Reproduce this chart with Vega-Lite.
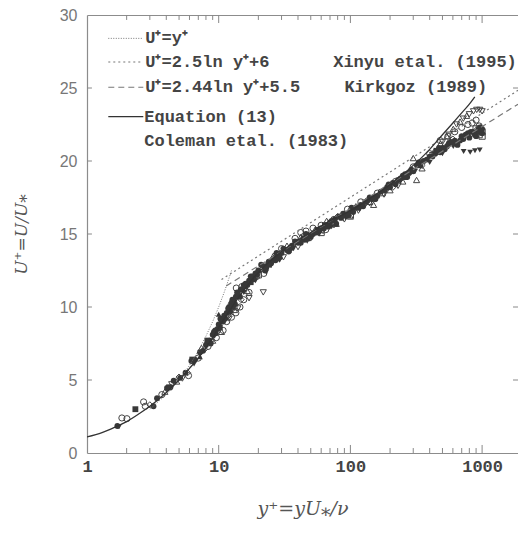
{
  "$schema": "https://vega.github.io/schema/vega-lite/v6.json",
  "width": 431,
  "height": 438,
  "autosize": "none",
  "padding": {"left": 87, "top": 15, "right": 0, "bottom": 92},
  "background": "white",
  "config": {
    "view": {"stroke": null},
    "axis": {"grid": false, "domainColor": "#8c8c8c", "domainWidth": 1.2}
  },
  "datasets": {
    "pts": [
      {"s":"A","x":1.7,"u":1.85},{"s":"A","x":3.2,"u":3.2},{"s":"A","x":3.4,"u":3.75},{"s":"A","x":4.05,"u":4.45},{"s":"A","x":4.3,"u":4.5},{"s":"A","x":4.55,"u":4.95},{"s":"A","x":5.1,"u":5.15},{"s":"A","x":5.6,"u":5.5},{"s":"A","x":6.2,"u":6.3},{"s":"A","x":6.6,"u":6.4},{"s":"A","x":7.2,"u":6.9},{"s":"A","x":7.6,"u":7.0},{"s":"A","x":8.0,"u":7.4},{"s":"A","x":8.5,"u":7.7},{"s":"A","x":9.0,"u":8.1},{"s":"A","x":9.4,"u":8.4},{"s":"A","x":10,"u":8.8},{"s":"A","x":10.5,"u":9.1},{"s":"A","x":11,"u":9.4},{"s":"A","x":11.5,"u":9.6},{"s":"A","x":12,"u":10.0},{"s":"A","x":12.5,"u":10.2},{"s":"A","x":13,"u":10.4},{"s":"A","x":13.5,"u":10.7},{"s":"A","x":14,"u":10.9},{"s":"A","x":15,"u":11.2},{"s":"A","x":16,"u":11.6},{"s":"A","x":17,"u":11.8},{"s":"A","x":18,"u":12.1},{"s":"A","x":19,"u":12.3},{"s":"A","x":20,"u":12.5},{"s":"A","x":22,"u":12.8},{"s":"A","x":24,"u":13.1},{"s":"A","x":26,"u":13.3},{"s":"A","x":28,"u":13.5},{"s":"A","x":30,"u":13.7},{"s":"A","x":33,"u":13.9},{"s":"A","x":36,"u":14.2},{"s":"A","x":40,"u":14.4},{"s":"A","x":44,"u":14.7},{"s":"A","x":48,"u":14.9},{"s":"A","x":52,"u":15.0},{"s":"A","x":56,"u":15.3},{"s":"A","x":60,"u":15.4},{"s":"A","x":65,"u":15.6},{"s":"A","x":70,"u":15.8},{"s":"A","x":76,"u":16.0},{"s":"A","x":82,"u":16.2},{"s":"A","x":90,"u":16.4},{"s":"A","x":100,"u":16.6},{"s":"A","x":110,"u":16.8},{"s":"A","x":120,"u":17.0},{"s":"A","x":135,"u":17.3},{"s":"A","x":150,"u":17.5},{"s":"A","x":170,"u":17.9},{"s":"A","x":190,"u":18.2},{"s":"A","x":210,"u":18.5},{"s":"A","x":230,"u":18.7},{"s":"A","x":260,"u":19.1},{"s":"A","x":290,"u":19.4},{"s":"A","x":320,"u":19.7},{"s":"A","x":360,"u":20.0},{"s":"A","x":400,"u":20.3},{"s":"A","x":450,"u":20.6},{"s":"A","x":500,"u":20.9},{"s":"A","x":560,"u":21.2},{"s":"A","x":620,"u":21.4},{"s":"A","x":700,"u":21.7},{"s":"A","x":780,"u":21.9},{"s":"A","x":850,"u":22.0},{"s":"A","x":930,"u":22.1},{"s":"A","x":1000,"u":22.2},{"s":"A","x":960,"u":22.3},{"s":"A","x":880,"u":21.8},{"s":"A","x":650,"u":21.1},
      {"s":"A","x":9.5,"u":8.2},{"s":"A","x":10.8,"u":9.0},{"s":"A","x":12.2,"u":9.7},{"s":"A","x":14.5,"u":10.7},{"s":"A","x":18.5,"u":11.9},{"s":"A","x":23,"u":12.7},{"s":"A","x":27,"u":13.2},{"s":"A","x":35,"u":14.0},{"s":"A","x":45,"u":14.6},{"s":"A","x":55,"u":15.1},{"s":"A","x":68,"u":15.5},{"s":"A","x":85,"u":16.1},{"s":"A","x":105,"u":16.5},{"s":"A","x":125,"u":16.9},{"s":"A","x":160,"u":17.6},{"s":"A","x":200,"u":18.2},{"s":"A","x":240,"u":18.8},{"s":"A","x":280,"u":19.2},{"s":"A","x":340,"u":19.7},{"s":"A","x":420,"u":20.3},{"s":"A","x":480,"u":20.6},{"s":"A","x":540,"u":21.0},{"s":"A","x":600,"u":21.2},{"s":"A","x":720,"u":21.5},{"s":"A","x":800,"u":21.6},{"s":"A","x":900,"u":21.7},{"s":"A","x":1000,"u":21.9},
      {"s":"A","x":8.7,"u":7.5},{"s":"A","x":9.2,"u":8.3},{"s":"A","x":9.8,"u":8.5},{"s":"A","x":10.3,"u":9.2},{"s":"A","x":11.2,"u":9.2},{"s":"A","x":11.8,"u":9.9},{"s":"A","x":12.7,"u":10.5},{"s":"A","x":13.3,"u":10.2},{"s":"A","x":13.8,"u":11.0},{"s":"A","x":14.7,"u":11.2},{"s":"A","x":15.5,"u":11.5},{"s":"A","x":16.5,"u":11.5},{"s":"A","x":17.5,"u":12.1},{"s":"A","x":19.5,"u":12.2},{"s":"A","x":21,"u":12.9},{"s":"A","x":22.5,"u":12.5},{"s":"A","x":25,"u":13.0},{"s":"A","x":27.5,"u":13.7},{"s":"A","x":29,"u":13.4},{"s":"A","x":31,"u":14.0},{"s":"A","x":34,"u":13.8},{"s":"A","x":38,"u":14.5},{"s":"A","x":42,"u":14.4},{"s":"A","x":46,"u":15.0},{"s":"A","x":50,"u":14.8},{"s":"A","x":58,"u":15.2},{"s":"A","x":63,"u":15.4},{"s":"A","x":72,"u":15.9},{"s":"A","x":78,"u":15.7},{"s":"A","x":88,"u":16.4},{"s":"A","x":95,"u":16.3},{"s":"A","x":102,"u":16.8},{"s":"A","x":115,"u":16.8},{"s":"A","x":130,"u":17.2},{"s":"A","x":140,"u":17.5},{"s":"A","x":155,"u":17.4},{"s":"A","x":180,"u":18.0},{"s":"A","x":195,"u":18.4},{"s":"A","x":220,"u":18.4},{"s":"A","x":250,"u":19.0},{"s":"A","x":270,"u":18.9},{"s":"A","x":300,"u":19.3},{"s":"A","x":330,"u":19.9},{"s":"A","x":380,"u":20.1},{"s":"A","x":440,"u":20.5},{"s":"A","x":470,"u":20.9},{"s":"A","x":520,"u":20.8},{"s":"A","x":580,"u":21.3},{"s":"A","x":680,"u":21.4},{"s":"A","x":750,"u":21.8},{"s":"A","x":820,"u":22.0},{"s":"A","x":980,"u":22.1},
      {"s":"B","x":1.84,"u":2.4},{"s":"B","x":2.01,"u":2.35},{"s":"B","x":2.69,"u":3.5},{"s":"B","x":2.77,"u":3.2},{"s":"B","x":3.7,"u":4.0},{"s":"B","x":5.9,"u":5.3},{"s":"B","x":7.0,"u":6.5},{"s":"B","x":8.3,"u":7.3},{"s":"B","x":9.6,"u":7.9},{"s":"B","x":11.5,"u":9.0},{"s":"B","x":12.5,"u":9.3},{"s":"B","x":13.5,"u":9.6},{"s":"B","x":14.5,"u":10.0},{"s":"B","x":15.5,"u":10.5},{"s":"B","x":17,"u":11.0},{"s":"B","x":19.5,"u":12.1},{"s":"B","x":24,"u":13.0},{"s":"B","x":30,"u":14.0},{"s":"B","x":38,"u":14.7},{"s":"B","x":46,"u":15.2},{"s":"B","x":52,"u":15.4},{"s":"B","x":60,"u":15.6},{"s":"B","x":75,"u":16.0},{"s":"B","x":95,"u":16.7},{"s":"B","x":120,"u":17.2},{"s":"B","x":160,"u":17.8},{"s":"B","x":220,"u":18.6},{"s":"B","x":300,"u":19.6},{"s":"B","x":400,"u":20.5},{"s":"B","x":480,"u":21.4},{"s":"B","x":550,"u":21.7},{"s":"B","x":620,"u":22.0},{"s":"B","x":700,"u":22.3},{"s":"B","x":780,"u":22.5},{"s":"B","x":840,"u":22.6},{"s":"B","x":900,"u":22.8},{"s":"B","x":950,"u":22.4},{"s":"B","x":13.6,"u":11.3},{"s":"B","x":15,"u":11.4},{"s":"B","x":10.8,"u":8.4},{"s":"B","x":22,"u":12.3},{"s":"B","x":42,"u":15.1},{"s":"B","x":65,"u":15.3},
      {"s":"C","x":3.9,"u":4.2},{"s":"C","x":4.8,"u":4.9},{"s":"C","x":7.4,"u":7.2},{"s":"C","x":9.0,"u":7.7},{"s":"C","x":10.5,"u":8.3},{"s":"C","x":13.2,"u":9.8},{"s":"C","x":16.5,"u":11.1},{"s":"C","x":21,"u":12.6},{"s":"C","x":26,"u":13.5},{"s":"C","x":33,"u":14.2},{"s":"C","x":42,"u":14.8},{"s":"C","x":54,"u":15.3},{"s":"C","x":66,"u":15.9},{"s":"C","x":78,"u":15.7},{"s":"C","x":88,"u":16.3},{"s":"C","x":110,"u":16.9},{"s":"C","x":140,"u":17.2},{"s":"C","x":175,"u":17.8},{"s":"C","x":200,"u":18.0},{"s":"C","x":250,"u":18.6},{"s":"C","x":318,"u":18.7},{"s":"C","x":350,"u":19.5},{"s":"C","x":428,"u":20.6},{"s":"C","x":483,"u":21.2},{"s":"C","x":541,"u":21.7},{"s":"C","x":604,"u":22.2},{"s":"C","x":680,"u":22.7},{"s":"C","x":763,"u":23.1},{"s":"C","x":300,"u":20.2},{"s":"C","x":150,"u":17.0},{"s":"C","x":100,"u":16.2},
      {"s":"D","x":4.4,"u":4.7},{"s":"D","x":5.3,"u":5.1},{"s":"D","x":8.8,"u":7.6},{"s":"D","x":12,"u":9.2},{"s":"D","x":14,"u":9.9},{"s":"D","x":17,"u":10.6},{"s":"D","x":21.8,"u":11.0},{"s":"D","x":25,"u":12.9},{"s":"D","x":31,"u":13.4},{"s":"D","x":40,"u":14.1},{"s":"D","x":50,"u":14.7},{"s":"D","x":62,"u":15.2},{"s":"D","x":75,"u":15.6},{"s":"D","x":90,"u":16.0},{"s":"D","x":115,"u":16.6},{"s":"D","x":140,"u":17.1},{"s":"D","x":180,"u":17.7},{"s":"D","x":230,"u":18.3},{"s":"D","x":280,"u":19.1},{"s":"D","x":350,"u":19.9},{"s":"D","x":420,"u":20.4},{"s":"D","x":500,"u":21.3},{"s":"D","x":560,"u":21.8},{"s":"D","x":640,"u":22.5},{"s":"D","x":720,"u":22.9},{"s":"D","x":800,"u":23.2},{"s":"D","x":860,"u":23.4},{"s":"D","x":910,"u":23.5},{"s":"D","x":960,"u":23.5},{"s":"D","x":1000,"u":23.4},
      {"s":"E","x":1.75,"u":1.8},{"s":"E","x":6.5,"u":6.1},{"s":"E","x":9.3,"u":8.0},{"s":"E","x":11,"u":9.2},{"s":"E","x":13,"u":10.1},{"s":"E","x":15.5,"u":11.0},{"s":"E","x":19,"u":11.8},{"s":"E","x":23,"u":12.4},{"s":"E","x":29,"u":13.2},{"s":"E","x":37,"u":14.0},{"s":"E","x":47,"u":14.5},{"s":"E","x":58,"u":15.0},{"s":"E","x":72,"u":15.5},{"s":"E","x":92,"u":16.1},{"s":"E","x":118,"u":16.7},{"s":"E","x":145,"u":17.3},{"s":"E","x":185,"u":17.9},{"s":"E","x":240,"u":18.6},{"s":"E","x":310,"u":19.3},{"s":"E","x":400,"u":19.9},{"s":"E","x":500,"u":20.5},{"s":"E","x":604,"u":21.0},{"s":"E","x":724,"u":20.65},{"s":"E","x":812,"u":20.6},{"s":"E","x":883,"u":20.7},{"s":"E","x":960,"u":20.75},{"s":"E","x":660,"u":21.2},
      {"s":"F","x":2.33,"u":3.0},{"s":"F","x":4.2,"u":4.5},{"s":"F","x":6.3,"u":6.4},{"s":"F","x":8.2,"u":7.7},{"s":"F","x":10.2,"u":8.6},{"s":"F","x":12.8,"u":10.0},{"s":"F","x":17.5,"u":11.7},{"s":"F","x":24,"u":12.9},{"s":"F","x":34,"u":13.9},{"s":"F","x":47,"u":14.7},{"s":"F","x":64,"u":15.6},{"s":"F","x":96,"u":16.3},{"s":"F","x":150,"u":17.4},{"s":"F","x":260,"u":18.9},{"s":"F","x":450,"u":20.7},{"s":"F","x":700,"u":21.6},{"s":"F","x":950,"u":22.0},
      {"s":"G","x":3.0,"u":3.3},{"s":"G","x":5.0,"u":5.2},{"s":"G","x":5.8,"u":5.5},{"s":"G","x":7.8,"u":7.1},{"s":"G","x":11.8,"u":9.4},{"s":"G","x":14.8,"u":10.5},{"s":"G","x":19.8,"u":12.4},{"s":"G","x":27,"u":13.6},{"s":"G","x":44,"u":14.9},{"s":"G","x":80,"u":16.2},{"s":"G","x":130,"u":17.1},{"s":"G","x":210,"u":18.2},{"s":"G","x":350,"u":19.7},{"s":"G","x":600,"u":21.5},{"s":"G","x":900,"u":22.1},
      {"s":"H","x":10,"u":9.5},{"s":"H","x":12.3,"u":10.4},{"s":"H","x":7.2,"u":6.6},{"s":"H","x":16,"u":11.4},{"s":"H","x":28,"u":13.3},{"s":"H","x":55,"u":15.2},{"s":"H","x":100,"u":16.7},{"s":"H","x":180,"u":18.1},{"s":"H","x":330,"u":19.8},{"s":"H","x":550,"u":21.3},{"s":"H","x":980,"u":22.4},
      {"s":"Q","x":950,"u":21.8},{"s":"Q","x":1000,"u":22.0},{"s":"Q","x":1000,"u":21.7},{"s":"Q","x":900,"u":22.2},{"s":"Q","x":20,"u":12.2},{"s":"Q","x":100,"u":16.3},{"s":"Q","x":60,"u":15.1}
    ],
    "lines": [
      {"c":"visc","x":3,"u":3},{"c":"visc","x":4,"u":4},{"c":"visc","x":5,"u":5},{"c":"visc","x":6,"u":6},{"c":"visc","x":7,"u":7},{"c":"visc","x":8,"u":8},{"c":"visc","x":9,"u":9},{"c":"visc","x":10,"u":10},{"c":"visc","x":11,"u":11},{"c":"visc","x":12,"u":12},{"c":"visc","x":12.5,"u":12.5},
      {"c":"visc_leg","x":1.451,"u":28.4},{"c":"visc_leg","x":2.676,"u":28.4},
      {"c":"l25","x":10.5,"u":11.88},{"c":"l25","x":1873,"u":24.84},
      {"c":"l25_leg","x":1.451,"u":26.78},{"c":"l25_leg","x":2.676,"u":26.78},
      {"c":"l244","x":11.4,"u":11.44},{"c":"l244","x":1873,"u":23.89},
      {"c":"l244_leg","x":1.451,"u":25.05},{"c":"l244_leg","x":2.676,"u":25.05},
      {"c":"eq","x":1,"u":1.1},{"c":"eq","x":1.3,"u":1.4},{"c":"eq","x":1.7,"u":1.85},{"c":"eq","x":2,"u":2.15},{"c":"eq","x":2.5,"u":2.7},{"c":"eq","x":3,"u":3.2},{"c":"eq","x":4,"u":4.15},{"c":"eq","x":5,"u":5.0},{"c":"eq","x":6,"u":5.8},{"c":"eq","x":7,"u":6.5},{"c":"eq","x":8,"u":7.2},{"c":"eq","x":9,"u":7.9},{"c":"eq","x":10,"u":8.6},{"c":"eq","x":12,"u":9.7},{"c":"eq","x":14,"u":10.6},{"c":"eq","x":16,"u":11.3},{"c":"eq","x":18,"u":11.9},{"c":"eq","x":20,"u":12.35},{"c":"eq","x":25,"u":13.2},{"c":"eq","x":30,"u":13.8},{"c":"eq","x":40,"u":14.6},{"c":"eq","x":50,"u":15.1},{"c":"eq","x":70,"u":15.9},{"c":"eq","x":100,"u":16.6},{"c":"eq","x":150,"u":17.6},{"c":"eq","x":200,"u":18.4},{"c":"eq","x":300,"u":19.7},{"c":"eq","x":400,"u":20.8},{"c":"eq","x":500,"u":21.8},{"c":"eq","x":600,"u":22.6},{"c":"eq","x":700,"u":23.3},{"c":"eq","x":800,"u":23.9},{"c":"eq","x":880,"u":24.4},
      {"c":"eq_leg","x":1.451,"u":23.04},{"c":"eq_leg","x":2.676,"u":23.04}
    ],
    "ticks": [
      {"x":2,"x2":2,"u":0,"u2":0.34},{"x":3,"x2":3,"u":0,"u2":0.34},{"x":4,"x2":4,"u":0,"u2":0.34},{"x":5,"x2":5,"u":0,"u2":0.34},{"x":6,"x2":6,"u":0,"u2":0.34},{"x":7,"x2":7,"u":0,"u2":0.34},{"x":8,"x2":8,"u":0,"u2":0.34},{"x":9,"x2":9,"u":0,"u2":0.34},{"x":10,"x2":10,"u":0,"u2":0.55},
      {"x":20,"x2":20,"u":0,"u2":0.34},{"x":30,"x2":30,"u":0,"u2":0.34},{"x":40,"x2":40,"u":0,"u2":0.34},{"x":50,"x2":50,"u":0,"u2":0.34},{"x":60,"x2":60,"u":0,"u2":0.34},{"x":70,"x2":70,"u":0,"u2":0.34},{"x":80,"x2":80,"u":0,"u2":0.34},{"x":90,"x2":90,"u":0,"u2":0.34},{"x":100,"x2":100,"u":0,"u2":0.55},
      {"x":200,"x2":200,"u":0,"u2":0.34},{"x":300,"x2":300,"u":0,"u2":0.34},{"x":400,"x2":400,"u":0,"u2":0.34},{"x":500,"x2":500,"u":0,"u2":0.34},{"x":600,"x2":600,"u":0,"u2":0.34},{"x":700,"x2":700,"u":0,"u2":0.34},{"x":800,"x2":800,"u":0,"u2":0.34},{"x":900,"x2":900,"u":0,"u2":0.34},{"x":1000,"x2":1000,"u":0,"u2":0.55},
      {"x":2,"x2":2,"u":29.66,"u2":30},{"x":3,"x2":3,"u":29.66,"u2":30},{"x":4,"x2":4,"u":29.66,"u2":30},{"x":5,"x2":5,"u":29.66,"u2":30},{"x":6,"x2":6,"u":29.66,"u2":30},{"x":7,"x2":7,"u":29.66,"u2":30},{"x":8,"x2":8,"u":29.66,"u2":30},{"x":9,"x2":9,"u":29.66,"u2":30},{"x":10,"x2":10,"u":29.45,"u2":30},
      {"x":20,"x2":20,"u":29.66,"u2":30},{"x":30,"x2":30,"u":29.66,"u2":30},{"x":40,"x2":40,"u":29.66,"u2":30},{"x":50,"x2":50,"u":29.66,"u2":30},{"x":60,"x2":60,"u":29.66,"u2":30},{"x":70,"x2":70,"u":29.66,"u2":30},{"x":80,"x2":80,"u":29.66,"u2":30},{"x":90,"x2":90,"u":29.66,"u2":30},{"x":100,"x2":100,"u":29.45,"u2":30},
      {"x":200,"x2":200,"u":29.66,"u2":30},{"x":300,"x2":300,"u":29.66,"u2":30},{"x":400,"x2":400,"u":29.66,"u2":30},{"x":500,"x2":500,"u":29.66,"u2":30},{"x":600,"x2":600,"u":29.66,"u2":30},{"x":700,"x2":700,"u":29.66,"u2":30},{"x":800,"x2":800,"u":29.66,"u2":30},{"x":900,"x2":900,"u":29.66,"u2":30},{"x":1000,"x2":1000,"u":29.45,"u2":30},
      {"x":1,"x2":1.09,"u":5,"u2":5},{"x":1,"x2":1.09,"u":10,"u2":10},{"x":1,"x2":1.09,"u":15,"u2":15},{"x":1,"x2":1.09,"u":20,"u2":20},{"x":1,"x2":1.09,"u":25,"u2":25},
      {"x":1717,"x2":1873,"u":5,"u2":5},{"x":1717,"x2":1873,"u":10,"u2":10},{"x":1717,"x2":1873,"u":15,"u2":15},{"x":1717,"x2":1873,"u":20,"u2":20},{"x":1717,"x2":1873,"u":25,"u2":25}
    ],
    "txt": [
      {"x":2.77,"u":28.4,"t":"U⁺=y⁺"},
      {"x":2.77,"u":26.78,"t":"U⁺=2.5ln y⁺+6"},
      {"x":2.77,"u":25.05,"t":"U⁺=2.44ln y⁺+5.5"},
      {"x":2.72,"u":23.04,"t":"Equation (13)"},
      {"x":2.72,"u":21.38,"t":"Coleman etal. (1983)"},
      {"x":74,"u":26.78,"t":"Xinyu etal. (1995)"},
      {"x":90,"u":25.05,"t":"Kirkgoz (1989)"}
    ]
  },
  "resolve": {"axis": {"x": "independent", "y": "independent"}},
  "layer": [
    {
      "data": {"name": "pts"},
      "transform": [{"filter": "indexof(['B','C','D','G','Q'], datum.s) >= 0"}],
      "mark": {"type": "point", "filled": false, "stroke": "#454545", "strokeWidth": 1, "size": 38, "opacity": 1},
      "encoding": {
        "x": {"field": "x", "type": "quantitative",
          "scale": {"type": "log", "domain": [1, 1873], "nice": false},
          "axis": {"orient": "bottom", "values": [1, 10, 100, 1000], "format": "d",
            "ticks": false, "domain": true, "labelPadding": 5, "labelFont": "Liberation Mono", "labelFontWeight": "bold",
            "labelFontSize": 17, "labelColor": "#444444", "labelFlush": false,
            "title": "y⁺=yU⁎/ν", "titleFont": "DejaVu Serif", "titleFontStyle": "italic", "titleFontWeight": "normal",
            "titleFontSize": 19, "titleColor": "#555555", "titlePadding": 25}},
        "y": {"field": "u", "type": "quantitative",
          "scale": {"domain": [0, 30], "nice": false},
          "axis": {"orient": "left", "values": [0,5,10,15,20,25,30], "ticks": false, "domain": true, "labelPadding": 10,
            "labelFont": "Liberation Sans", "labelFontSize": 16, "labelColor": "#777777",
            "title": "U⁺=U/U⁎", "titleFont": "DejaVu Serif", "titleFontStyle": "italic", "titleFontWeight": "normal",
            "titleFontSize": 17, "titleColor": "#555555", "titlePadding": 29}},
        "shape": {"field": "s", "type": "nominal", "legend": null,
          "scale": {"domain": ["A","B","C","D","E","F","G","H","Q"], "range": ["circle","circle","triangle-up","triangle-down","triangle-down","square","diamond","triangle-up","square"]}}
      }
    },
    {
      "data": {"name": "pts"},
      "transform": [{"filter": "indexof(['A','E','F','H'], datum.s) >= 0"}],
      "mark": {"type": "point", "filled": true, "fill": "#383838", "size": 34, "opacity": 1},
      "encoding": {
        "x": {"field": "x", "type": "quantitative",
          "scale": {"type": "log", "domain": [1, 1873], "nice": false},
          "axis": {"orient": "top", "values": [1, 10, 100, 1000], "labels": false, "ticks": false, "domain": true, "title": null}},
        "y": {"field": "u", "type": "quantitative",
          "scale": {"domain": [0, 30], "nice": false}, "axis": null},
        "shape": {"field": "s", "type": "nominal", "legend": null,
          "scale": {"domain": ["A","B","C","D","E","F","G","H","Q"], "range": ["circle","circle","triangle-up","triangle-down","triangle-down","square","diamond","triangle-up","square"]}}
      }
    },
    {
      "data": {"name": "ticks"},
      "mark": {"type": "rule", "stroke": "#888888", "strokeWidth": 1},
      "encoding": {
        "x": {"field": "x", "type": "quantitative", "scale": {"type": "log", "domain": [1, 1873], "nice": false}, "axis": null},
        "x2": {"field": "x2"},
        "y": {"field": "u", "type": "quantitative", "scale": {"domain": [0, 30], "nice": false}, "axis": null},
        "y2": {"field": "u2"}
      }
    },
    {
      "data": {"name": "lines"},
      "transform": [{"filter": "datum.c == 'visc' || datum.c == 'visc_leg'"}],
      "mark": {"type": "line", "stroke": "#777777", "strokeWidth": 1, "strokeDash": [1, 1.5], "clip": true},
      "encoding": {
        "x": {"field": "x", "type": "quantitative", "scale": {"type": "log", "domain": [1, 1873], "nice": false}, "axis": null},
        "y": {"field": "u", "type": "quantitative", "scale": {"domain": [0, 30], "nice": false}, "axis": null},
        "detail": {"field": "c"}
      }
    },
    {
      "data": {"name": "lines"},
      "transform": [{"filter": "datum.c == 'l25' || datum.c == 'l25_leg'"}],
      "mark": {"type": "line", "stroke": "#777777", "strokeWidth": 1.2, "strokeDash": [2, 3], "clip": true},
      "encoding": {
        "x": {"field": "x", "type": "quantitative", "scale": {"type": "log", "domain": [1, 1873], "nice": false}, "axis": null},
        "y": {"field": "u", "type": "quantitative", "scale": {"domain": [0, 30], "nice": false}, "axis": null},
        "detail": {"field": "c"}
      }
    },
    {
      "data": {"name": "lines"},
      "transform": [{"filter": "datum.c == 'l244' || datum.c == 'l244_leg'"}],
      "mark": {"type": "line", "stroke": "#777777", "strokeWidth": 1.2, "strokeDash": [6, 4], "clip": true},
      "encoding": {
        "x": {"field": "x", "type": "quantitative", "scale": {"type": "log", "domain": [1, 1873], "nice": false}, "axis": null},
        "y": {"field": "u", "type": "quantitative", "scale": {"domain": [0, 30], "nice": false}, "axis": null},
        "detail": {"field": "c"}
      }
    },
    {
      "data": {"name": "lines"},
      "transform": [{"filter": "datum.c == 'eq' || datum.c == 'eq_leg'"}],
      "mark": {"type": "line", "stroke": "#333333", "strokeWidth": 1.3, "interpolate": "monotone", "clip": true},
      "encoding": {
        "x": {"field": "x", "type": "quantitative", "scale": {"type": "log", "domain": [1, 1873], "nice": false}, "axis": null},
        "y": {"field": "u", "type": "quantitative", "scale": {"domain": [0, 30], "nice": false}, "axis": null},
        "detail": {"field": "c"}
      }
    },
    {
      "data": {"name": "txt"},
      "mark": {"type": "text", "align": "left", "baseline": "middle", "font": "Liberation Mono", "fontWeight": "bold", "fontSize": 17, "color": "#444444"},
      "encoding": {
        "x": {"field": "x", "type": "quantitative", "scale": {"type": "log", "domain": [1, 1873], "nice": false}, "axis": null},
        "y": {"field": "u", "type": "quantitative", "scale": {"domain": [0, 30], "nice": false}, "axis": null},
        "text": {"field": "t"}
      }
    }
  ]
}
